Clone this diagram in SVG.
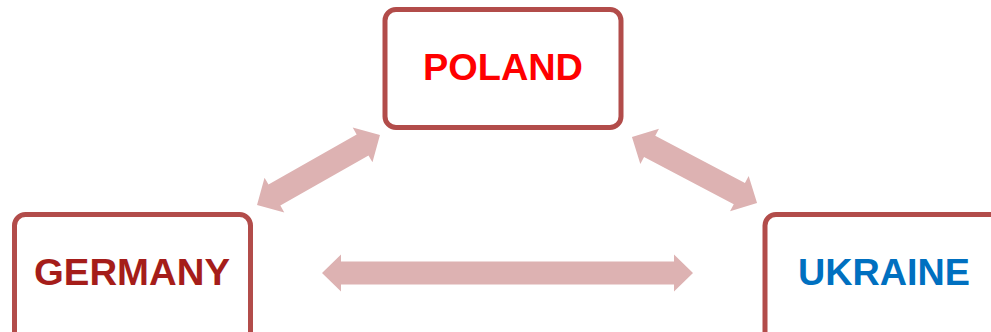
<svg xmlns="http://www.w3.org/2000/svg" width="991" height="332" viewBox="0 0 991 332">
<style>
.box{fill:#ffffff;stroke:#B24C4A;stroke-width:5}
.lbl{font-family:"Liberation Sans",Arial,sans-serif;font-weight:bold;font-size:37px;text-anchor:middle}
.arr{fill:#DDB2B2}
</style>
<rect width="991" height="332" fill="#ffffff"/>
<g id="connectors">
<path class="arr" transform="translate(507.5,273)" d="M-185.5,0 L-166.5,-18.5 L-166.5,-11.5 L166.5,-11.5 L166.5,-18.5 L185.5,0 L166.5,18.5 L166.5,11.5 L-166.5,11.5 L-166.5,18.5 Z"/>
<path class="arr" transform="translate(318.5,170) rotate(-29.6)" d="M-70.7,0 L-50.7,-20 L-50.7,-12 L50.7,-12 L50.7,-20 L70.7,0 L50.7,20 L50.7,12 L-50.7,12 L-50.7,20 Z"/>
<path class="arr" transform="translate(694.5,170) rotate(27.8)" d="M-70.7,0 L-50.7,-20 L-50.7,-12 L50.7,-12 L50.7,-20 L70.7,0 L50.7,20 L50.7,12 L-50.7,12 L-50.7,20 Z"/>
</g>
<g id="poland">
<rect class="box" x="385" y="9.5" width="236" height="118" rx="11"/>
<text class="lbl" x="503" y="80" fill="#FF0000" textLength="160" lengthAdjust="spacingAndGlyphs">POLAND</text>
</g>
<g id="germany">
<rect class="box" x="14.5" y="214.5" width="236" height="140" rx="11"/>
<text class="lbl" x="132" y="285" fill="#A51D1A" textLength="196" lengthAdjust="spacingAndGlyphs">GERMANY</text>
</g>
<g id="ukraine">
<rect class="box" x="765" y="214.5" width="260" height="140" rx="11"/>
<text class="lbl" x="884" y="285" fill="#0070C0" textLength="172" lengthAdjust="spacingAndGlyphs">UKRAINE</text>
</g>
</svg>
